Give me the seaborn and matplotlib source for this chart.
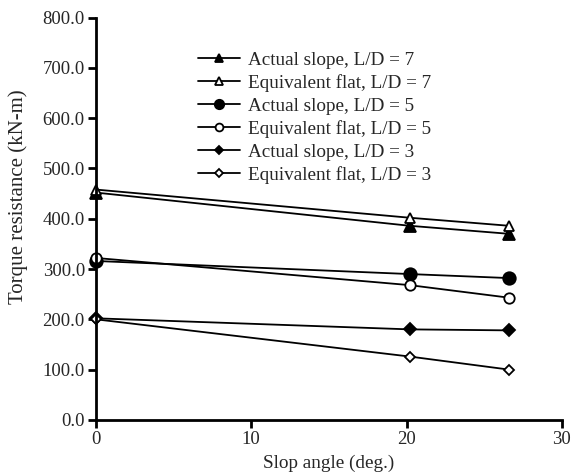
import matplotlib
matplotlib.use("Agg")
import matplotlib.pyplot as plt
import seaborn as sns
import pandas as pd
from matplotlib.ticker import FormatStrFormatter

angles = [0, 20.2, 26.6]
actual_7 = [452, 386, 370]
flat_7 = [458, 402, 386]
actual_5 = [316, 290, 282]
flat_5 = [322, 268, 243]
actual_3 = [202, 180, 178]
flat_3 = [200, 126, 100]

labels = ["Actual slope, L/D = 7", "Equivalent flat, L/D = 7",
          "Actual slope, L/D = 5", "Equivalent flat, L/D = 5",
          "Actual slope, L/D = 3", "Equivalent flat, L/D = 3"]
series = [actual_7, flat_7, actual_5, flat_5, actual_3, flat_3]

sns.set_style("ticks")
plt.rcParams['font.family'] = ['Liberation Serif', 'DejaVu Serif']

fig = plt.figure(figsize=(5.71, 4.75), dpi=100)
ax = fig.add_axes([0.168, 0.116, 0.816, 0.847])

styles = [("^", "black"), ("^", "white"), ("o", "black"), ("o", "white"),
          ("D", "black"), ("D", "white")]
sizes = [8, 7, 9, 7.5, 6, 5]
for lab, vals, (m, fc), ms in zip(labels, series, styles, sizes):
    df = pd.DataFrame({"x": angles, "y": vals})
    sns.lineplot(data=df, x="x", y="y", ax=ax, color="black", lw=1.3,
                 marker=m, markersize=ms, markerfacecolor=fc,
                 markeredgecolor="black", markeredgewidth=1.3, label=lab,
                 clip_on=False)

ax.set_xlim(0, 30)
ax.set_ylim(0, 800)
ax.set_xticks([0, 10, 20, 30])
ax.set_yticks(range(0, 801, 100))
ax.yaxis.set_major_formatter(FormatStrFormatter("%.1f"))
ax.tick_params(labelsize=13.5, width=2, length=6, direction="out", color="black", pad=2)
ax.set_xlabel("Slop angle (deg.)", fontsize=13.8, labelpad=5)
ax.set_ylabel("Torque resistance (kN-m)", fontsize=15)
ax.yaxis.set_label_coords(-0.146, 0.555)
for s in ["left", "bottom"]:
    ax.spines[s].set_linewidth(2)
    ax.spines[s].set_color("black")
for s in ["top", "right"]:
    ax.spines[s].set_visible(False)

ax.legend(loc="upper left", bbox_to_anchor=(0.203, 0.935), frameon=False,
          fontsize=13.8, labelspacing=0.28, handlelength=2.2, handletextpad=0.4,
          borderaxespad=0, markerscale=0.75)

fig.savefig("out.png", dpi=100)
